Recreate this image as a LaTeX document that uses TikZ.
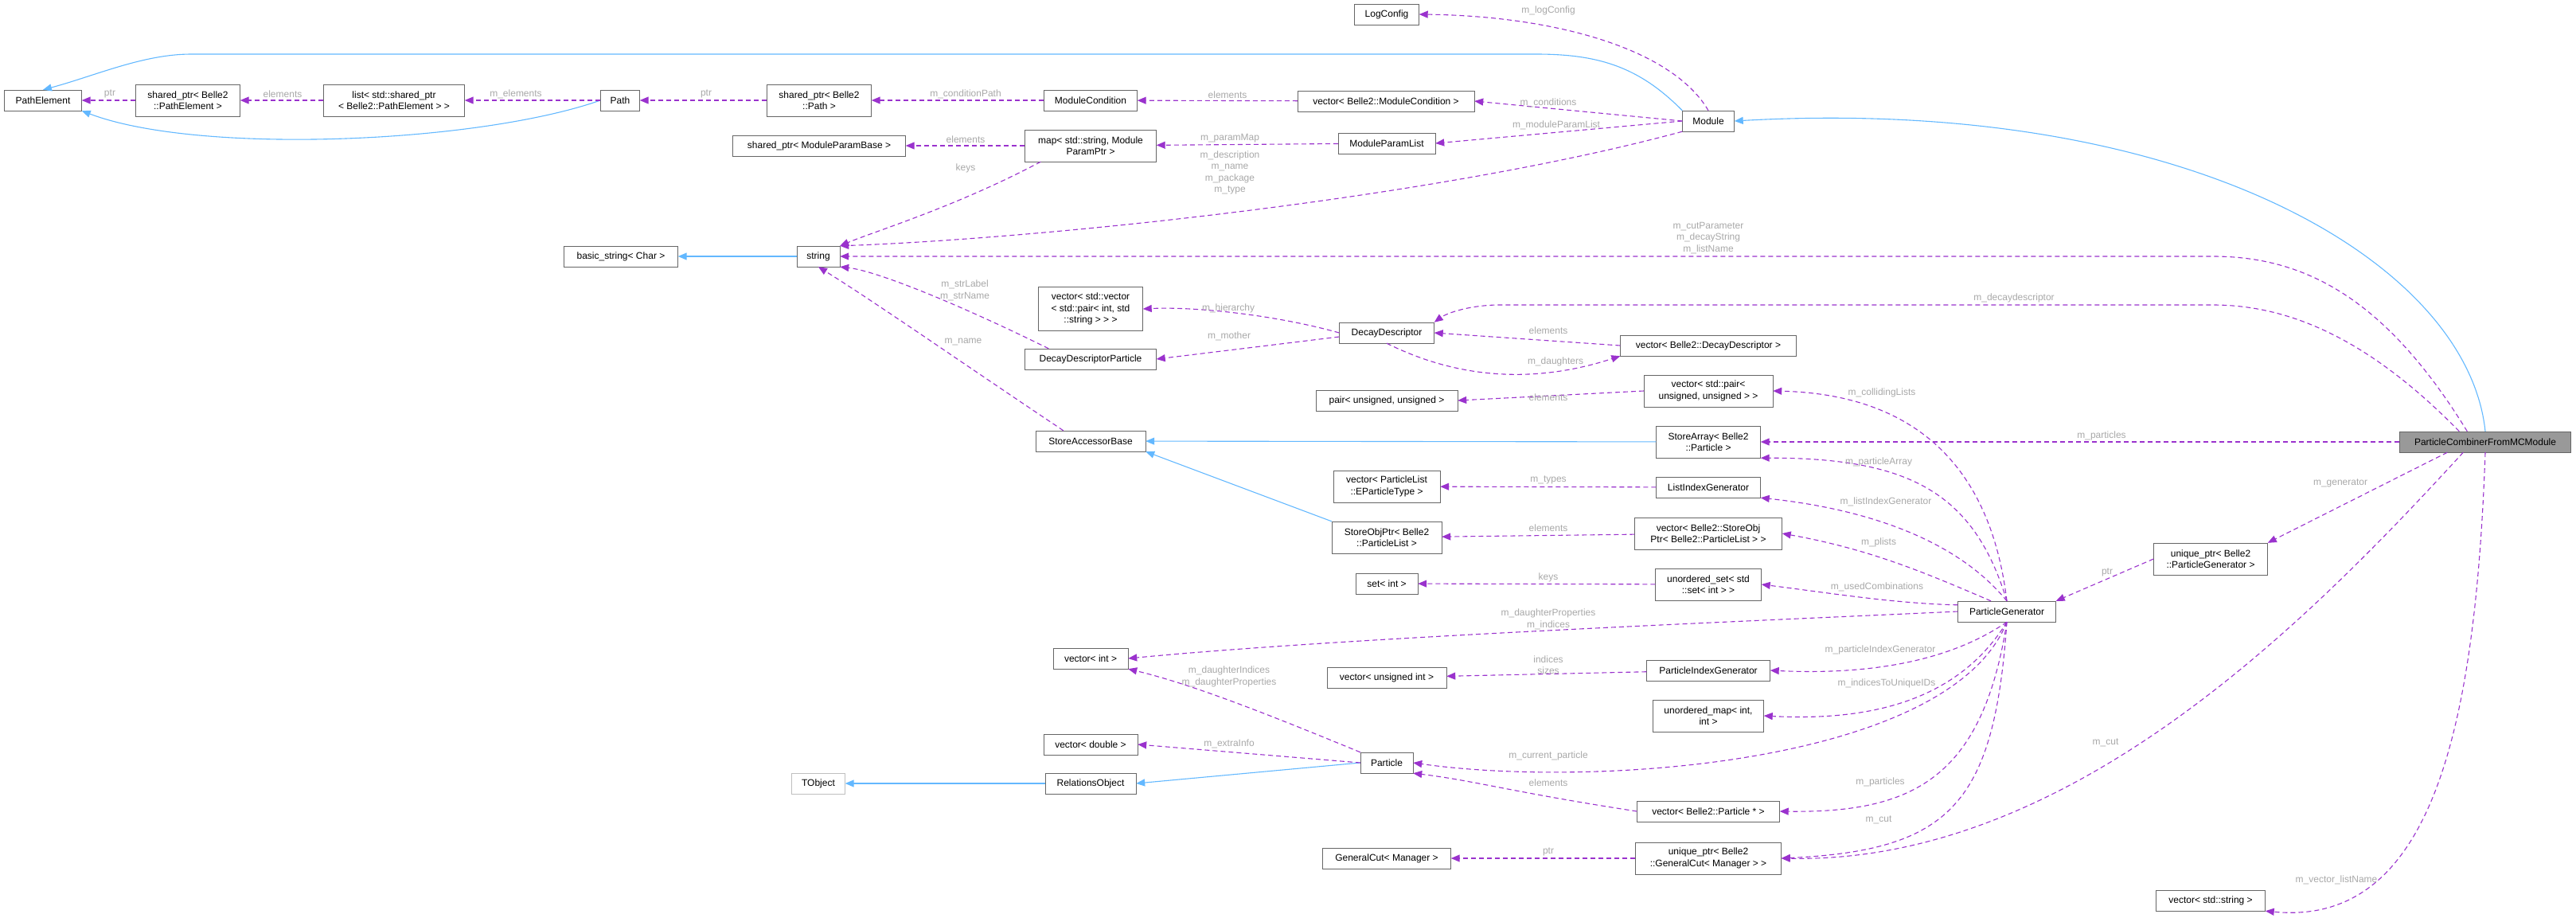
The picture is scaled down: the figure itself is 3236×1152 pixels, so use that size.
\documentclass[tikz,border=0pt]{standalone}
\usepackage{fontspec}
\setmainfont{Liberation Sans}
\usetikzlibrary{arrows.meta}
\definecolor{purp}{HTML}{9A32CD}
\definecolor{blu}{HTML}{63B8FF}
\definecolor{lblc}{HTML}{A8A8A8}
\begin{document}
\begin{tikzpicture}[x=1pt,y=-1pt,
 box/.style={draw=black!60, fill=white, font=\fontsize{12}{14.5}\selectfont, inner sep=1pt, align=center, minimum height=26pt},
 box2/.style={box, minimum height=40pt},
 lbl/.style={text=lblc, font=\fontsize{12}{14.5}\selectfont, align=center, inner sep=0pt},
 mem/.style={draw=purp, line width=1.1pt, dash pattern=on 6pt off 4pt, -{Triangle[length=11pt,width=9pt]}},
 inh/.style={draw=blu, line width=1.1pt, -{Triangle[length=11pt,width=9pt]}}]
\useasboundingbox (0,0) rectangle (3236,1152);
% nodes
\node[box, minimum width=97] (pe) at (54,126) {PathElement};
\node[box2, minimum width=131] (sppe) at (236,126) {shared\_ptr< Belle2\\::PathElement >};
\node[box2, minimum width=177] (lst) at (495,126) {list< std::shared\_ptr\\< Belle2::PathElement > >};
\node[box, minimum width=49] (path) at (779,126) {Path};
\node[box2, minimum width=131] (spp) at (1029,126) {shared\_ptr< Belle2\\::Path >};
\node[box, minimum width=217] (spmpb) at (1029,183) {shared\_ptr< ModuleParamBase >};
\node[box, minimum width=143] (bs) at (780,322) {basic\_string< Char >};
\node[box, minimum width=54] (str) at (1028,322) {string};
\node[box, minimum width=81] (log) at (1742,18) {LogConfig};
\node[box, minimum width=117] (mc) at (1370,126) {ModuleCondition};
\node[box, minimum width=222] (vmc) at (1741,127) {vector< Belle2::ModuleCondition >};
\node[box, minimum width=65] (mod) at (2146,152) {Module};
\node[box2, minimum width=165] (map) at (1370,183) {map< std::string, Module\\ParamPtr >};
\node[box, minimum width=122] (mpl) at (1742,180) {ModuleParamList};
\node[box, minimum width=131, minimum height=55] (vvp) at (1370,388) {vector< std::vector\\< std::pair< int, std\\::string > > >};
\node[box, minimum width=119] (dd) at (1742,418) {DecayDescriptor};
\node[box, minimum width=165] (ddp) at (1370,451) {DecayDescriptorParticle};
\node[box, minimum width=221] (vdd) at (2146,434) {vector< Belle2::DecayDescriptor >};
\node[box, minimum width=178] (pair) at (1742,503) {pair< unsigned, unsigned >};
\node[box2, minimum width=162] (vps) at (2146,491) {vector< std::pair<\\unsigned, unsigned > >};
\node[box, minimum width=138] (sab) at (1370,554) {StoreAccessorBase};
\node[box2, minimum width=131] (sa) at (2146,555) {StoreArray< Belle2\\::Particle >};
\node[box2, minimum width=134] (vept) at (1742,611) {vector< ParticleList\\::EParticleType >};
\node[box, minimum width=131] (lig) at (2146,612) {ListIndexGenerator};
\node[box2, minimum width=138] (sop) at (1742,675) {StoreObjPtr< Belle2\\::ParticleList >};
\node[box2, minimum width=185] (vsop) at (2146,670) {vector< Belle2::StoreObj\\Ptr< Belle2::ParticleList > >};
\node[box, minimum width=78] (set) at (1742,733) {set< int >};
\node[box2, minimum width=133] (us) at (2146,734) {unordered\_set< std\\::set< int > >};
\node[box, minimum width=94] (vint) at (1370,827) {vector< int >};
\node[box, minimum width=150] (vui) at (1742,851) {vector< unsigned int >};
\node[box, minimum width=155] (pig) at (2146,842) {ParticleIndexGenerator};
\node[box2, minimum width=139] (umap) at (2146,899) {unordered\_map< int,\\int >};
\node[box, minimum width=118] (vdbl) at (1370,935) {vector< double >};
\node[box, minimum width=66] (part) at (1742,958) {Particle};
\node[box, minimum width=114] (ro) at (1370,984) {RelationsObject};
\node[box, minimum width=67, draw=black!25] (tob) at (1028,984) {TObject};
\node[box, minimum width=179] (vpp) at (2146,1019) {vector< Belle2::Particle * >};
\node[box, minimum width=161] (gc) at (1742,1078) {GeneralCut< Manager >};
\node[box2, minimum width=183] (ucut) at (2146,1078) {unique\_ptr< Belle2\\::GeneralCut< Manager > >};
\node[box, minimum width=215, fill=black!40] (pcf) at (3122,555) {ParticleCombinerFromMCModule};
\node[box2, minimum width=143] (upg) at (2777,702) {unique\_ptr< Belle2\\::ParticleGenerator >};
\node[box, minimum width=123] (pg) at (2521,768) {ParticleGenerator};
\node[box, minimum width=137] (vstr) at (2777,1131) {vector< std::string >};
% inheritance
\draw[inh] (pcf.north) .. controls (3100,330) and (2750,120) .. (mod.east);
\draw[inh] (mod.north west) .. controls (2060,85) and (2010,68) .. (1930,68) -- (240,68) .. controls (180,68) and (120,95) .. (pe.north);
\draw[inh] (path.west) .. controls (600,180) and (250,195) .. (pe.south east);
\draw[inh] (str) -- (bs);
\draw[inh] (sa) -- (sab);
\draw[inh] (sop.north west) -- (sab.south east);
\draw[inh] (part.west) -- (ro.east);
\draw[inh] (ro) -- (tob);
% members
\draw[mem] (pcf.north west) ++(85,0) .. controls (3000,380) and (2900,322) .. (2780,322) -- (str.east);
\draw[mem] (pcf.north west) ++(75,0) .. controls (2980,430) and (2880,383) .. (2780,383) -- (1880,383) .. controls (1840,384) and (1815,395) .. (dd.north east);
\draw[mem] (pcf) -- (sa);
\draw[mem] (pcf.south west) ++(60,0) -- (upg.north east);
\draw[mem] (pcf.south west) ++(80,0) .. controls (2900,780) and (2600,1085) .. (ucut.east);
\draw[mem] (pcf.south) .. controls (3110,900) and (3060,1165) .. (vstr.south east);
\draw[mem] (upg.west) -- (pg.north east);
\draw[mem] (pg.north) .. controls (2500,580) and (2400,495) .. (vps.east);
\draw[mem] (pg.north) .. controls (2480,620) and (2400,575) .. (sa.south east);
\draw[mem] (pg.north) .. controls (2460,680) and (2350,640) .. (lig.south east);
\draw[mem] (pg.north) ++(-20,0) .. controls (2420,720) and (2350,690) .. (vsop.east);
\draw[mem] (pg.north west) ++(0,5) .. controls (2380,758) and (2300,745) .. (us.east);
\draw[mem] (pg.west) .. controls (2200,780) and (1700,800) .. (vint.east);
\draw[mem] (pg.south) .. controls (2450,830) and (2350,848) .. (pig.east);
\draw[mem] (pg.south) .. controls (2460,880) and (2350,906) .. (umap.east);
\draw[mem] (pg.south) .. controls (2450,960) and (2000,990) .. (part.east);
\draw[mem] (pg.south) .. controls (2490,980) and (2400,1021) .. (vpp.east);
\draw[mem] (pg.south) .. controls (2505,1010) and (2450,1068) .. (ucut.east);
\draw[mem] (mod.north) .. controls (2100,60) and (1950,20) .. (log.east);
\draw[mem] (mod.west) -- (vmc.east);
\draw[mem] (mod.west) -- (mpl.east);
\draw[mem] (mod.south west) .. controls (1800,250) and (1300,300) .. (str.north east);
\draw[mem] (vmc) -- (mc);
\draw[mem] (mc) -- (spp);
\draw[mem] (spp) -- (path);
\draw[mem] (path) -- (lst);
\draw[mem] (lst) -- (sppe);
\draw[mem] (sppe) -- (pe);
\draw[mem] (mpl) -- (map);
\draw[mem] (map) -- (spmpb);
\draw[mem] (map.south west) ++(20,0) .. controls (1200,260) and (1100,290) .. (str.north east);
\draw[mem] (dd.west) .. controls (1600,395) and (1500,385) .. (vvp.east);
\draw[mem] (dd.west) ++(0,5) -- (ddp.east);
\draw[mem] (dd.south) .. controls (1850,485) and (1950,475) .. (vdd.south west);
\draw[mem] (vdd.west) -- (dd.east);
\draw[mem] (vps.west) -- (pair.east);
\draw[mem] (ddp.north west) ++(30,0) .. controls (1200,380) and (1100,340) .. (str.south east);
\draw[mem] (sab.north west) ++(35,0) .. controls (1200,450) and (1100,380) .. (str.south);
\draw[mem] (lig) -- (vept);
\draw[mem] (vsop) -- (sop);
\draw[mem] (us) -- (set);
\draw[mem] (pig) -- (vui);
\draw[mem] (part.north west) .. controls (1600,900) and (1500,860) .. (vint.south east);
\draw[mem] (part.west) -- (vdbl.east);
\draw[mem] (vpp.west) .. controls (1900,995) and (1850,980) .. (part.south east);
\draw[mem] (ucut) -- (gc);
% labels
\node[lbl] (l1) at (138,118) {ptr};
\node[lbl] (l2) at (355,118) {elements};
\node[lbl] (l3) at (648,118) {m\_elements};
\node[lbl] (l4) at (887,118) {ptr};
\node[lbl] (l5) at (1213,118) {m\_conditionPath};
\node[lbl] (l6) at (1542,119) {elements};
\node[lbl] (l7) at (1945,129) {m\_conditions};
\node[lbl] (l8) at (1955,157) {m\_moduleParamList};
\node[lbl] (l9) at (1945,13) {m\_logConfig};
\node[lbl] (l10) at (1213,175) {elements};
\node[lbl] (l11) at (1545,174) {m\_paramMap};
\node[lbl] (l12) at (1213,211) {keys};
\node[lbl] (l13) at (1545,217) {m\_description\\m\_name\\m\_package\\m\_type};
\node[lbl] (l14) at (2146,299) {m\_cutParameter\\m\_decayString\\m\_listName};
\node[lbl] (l15) at (2530,374) {m\_decaydescriptor};
\node[lbl] (l16) at (1212,365) {m\_strLabel\\m\_strName};
\node[lbl] (l17) at (1543,387) {m\_hierarchy};
\node[lbl] (l18) at (1210,429) {m\_name};
\node[lbl] (l19) at (1544,422) {m\_mother};
\node[lbl] (l20) at (1945,415) {elements};
\node[lbl] (l21) at (1954,454) {m\_daughters};
\node[lbl] (l22) at (1945,499) {elements};
\node[lbl] (l23) at (2364,493) {m\_collidingLists};
\node[lbl] (l24) at (2640,547) {m\_particles};
\node[lbl] (l25) at (2360,580) {m\_particleArray};
\node[lbl] (l26) at (1945,603) {m\_types};
\node[lbl] (l27) at (2940,607) {m\_generator};
\node[lbl] (l28) at (2369,630) {m\_listIndexGenerator};
\node[lbl] (l29) at (1945,663) {elements};
\node[lbl] (l30) at (2360,681) {m\_plists};
\node[lbl] (l31) at (2647,719) {ptr};
\node[lbl] (l32) at (1945,725) {keys};
\node[lbl] (l33) at (2358,737) {m\_usedCombinations};
\node[lbl] (l34) at (1945,778) {m\_daughterProperties\\m\_indices};
\node[lbl] (l35) at (2362,816) {m\_particleIndexGenerator};
\node[lbl] (l36) at (1945,835) {indices\\sizes};
\node[lbl] (l37) at (1544,850) {m\_daughterIndices\\m\_daughterProperties};
\node[lbl] (l38) at (2370,858) {m\_indicesToUniqueIDs};
\node[lbl] (l39) at (1544,934) {m\_extraInfo};
\node[lbl] (l40) at (1945,949) {m\_current\_particle};
\node[lbl] (l41) at (2645,933) {m\_cut};
\node[lbl] (l42) at (2362,982) {m\_particles};
\node[lbl] (l43) at (1945,983) {elements};
\node[lbl] (l44) at (2360,1030) {m\_cut};
\node[lbl] (l45) at (1945,1070) {ptr};
\node[lbl] (l46) at (2935,1105) {m\_vector\_listName};
\end{tikzpicture}
\end{document}
